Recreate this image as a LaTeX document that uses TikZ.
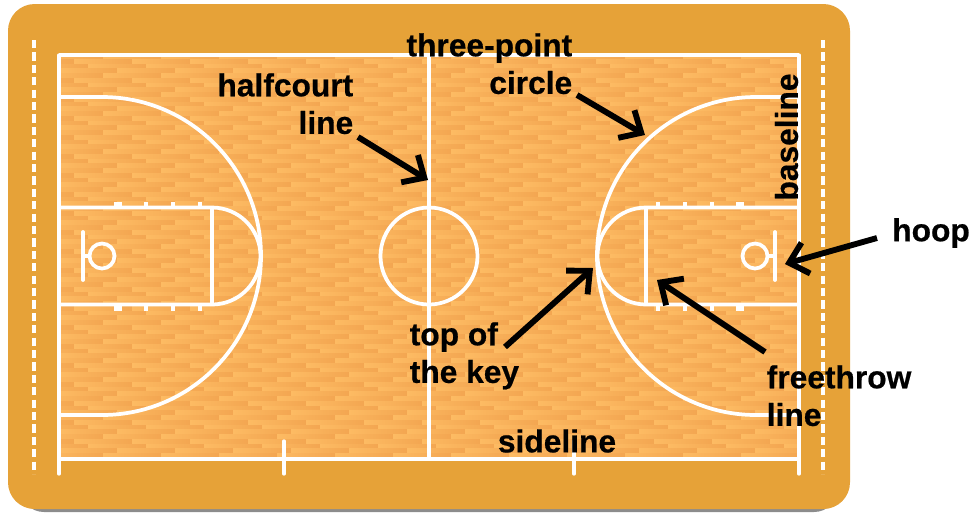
\documentclass[tikz,border=0pt]{standalone}
\usepackage{fontspec}
\setmainfont[BoldFeatures={FakeBold=0.6}]{Liberation Sans}
\usetikzlibrary{arrows.meta}
\definecolor{floorband}{HTML}{E6A238}
\definecolor{woodlight}{HTML}{FDBB63}
\definecolor{wooddark}{HTML}{F3A651}
\definecolor{shadowgray}{HTML}{8C8C8C}
\tikzset{
  courtline/.style={draw=white,line width=2.8pt},
  thinline/.style={draw=white,line width=2.5pt},
  dashline/.style={draw=white,line width=2.8pt,dash pattern=on 6.2pt off 3.1pt},
  mark line/.style={draw=white,line width=2.4pt},
  fat mark/.style={draw=white,line width=5.6pt},
  label text/.style={font=\fontsize{23.8}{28.2}\selectfont\bfseries,text=black,inner sep=0pt},
  callout/.style={draw=black,line width=4.4pt,-{Straight Barb[length=13pt,width=24pt,line width=4.4pt]}},
}
\begin{document}
\begin{tikzpicture}[x=0.75pt,y=-0.75pt]
\useasboundingbox (0,0) rectangle (972,512);
\fill[white] (0,0) rectangle (972,512);
% base panel with shadow
\fill[shadowgray,rounded corners=18pt] (20,40) rectangle (838,512);
\fill[floorband,rounded corners=20pt] (8,4) rectangle (850,509);
% wood
\begin{scope}
\clip (59,55) rectangle (799,459);
\fill[woodlight] (59,55) rectangle (799,459);
\foreach \r in {0,...,85}{
  \pgfmathtruncatemacro\m{mod(\r,4)}
  \ifcase\m\relax \def\s{103}\or \def\s{74}\or \def\s{88}\or \def\s{117}\fi
  \pgfmathsetmacro\yy{54.5+4.75*\r}
  \pgfmathsetmacro\yb{\yy+4.85}
  \foreach \k in {-2,...,13}{
    \pgfmathsetmacro\xa{\s+58*\k}
    \pgfmathsetmacro\xb{\xa+58.05}
    \shade[left color=woodlight,right color=wooddark] (\xa,\yy) rectangle (\xb,\yb);
  }
}
\end{scope}
% outer dashed lines
\draw[dashline] (34,40) -- (34,474);
\draw[dashline] (823,40) -- (823,474);
% court boundary
\draw[courtline] (59,55) -- (799,55);
\draw[thinline] (59,459) -- (799,459);
\draw[thinline,line cap=round] (59,55) -- (59,474);
\draw[thinline,line cap=round] (799,55) -- (799,474);
\draw[courtline] (429,55) -- (429,459);
\draw[thinline,line cap=round] (284,441) -- (284,474);
\draw[thinline,line cap=round] (574,441) -- (574,474);
% center circle
\draw[courtline] (429,256) circle[radius=48.5];
% left half
\draw[courtline] (59,97) -- (102,97) arc[start angle=-90,end angle=90,radius=159] -- (59,415);
\draw[courtline] (59,207.5) -- (212,207.5) arc[start angle=-90,end angle=90,radius=48.5] -- (59,304.5);
\draw[courtline] (212,207.5) -- (212,304.5);
\draw[courtline] (102,256) circle[radius=12.5];
\draw[courtline,line cap=round] (83,232) -- (83,280);
\draw[courtline] (83,256) -- (90,256);
\draw[fat mark] (118,202) -- (118,207);
\draw[fat mark] (118,305) -- (118,311);
\foreach \x in {146,173,200}{
  \draw[mark line] (\x,202) -- (\x,207);
  \draw[mark line] (\x,305) -- (\x,311);
}
% right half
\draw[courtline] (799,97) -- (756,97) arc[start angle=-90,end angle=-270,radius=159] -- (799,415);
\draw[courtline] (799,207.5) -- (646,207.5) arc[start angle=-90,end angle=-270,radius=48.5] -- (799,304.5);
\draw[courtline] (646,207.5) -- (646,304.5);
\draw[courtline] (755,256) circle[radius=12.5];
\draw[courtline,line cap=round] (775,232) -- (775,280);
\draw[courtline] (768,256) -- (775,256);
\draw[fat mark] (740,202) -- (740,207);
\draw[fat mark] (740,305) -- (740,311);
\foreach \x in {658,685,712}{
  \draw[mark line] (\x,202) -- (\x,207);
  \draw[mark line] (\x,305) -- (\x,311);
}
% labels
\node[label text,align=right,anchor=north east] (threepoint) at (572.5,33) {three-point\\circle};
\node[label text,align=right,anchor=north east] (halfcourt) at (353.5,73) {halfcourt\\line};
\node[label text,rotate=90] (baseline) at (786.5,137) {baseline};
\node[label text,anchor=west] (hoop) at (892,233) {hoop};
\node[label text,align=left,anchor=north west] (topkey) at (409.5,322) {top of\\the key};
\node[label text,align=left,anchor=north west] (freethrow) at (766.5,365) {freethrow\\line};
\node[label text] (sideline) at (557,441) {sideline};
% callouts
\coordinate (halfA) at (358,137); \coordinate (halfB) at (428,180);
\coordinate (threeA) at (577,95); \coordinate (threeB) at (645,135);
\coordinate (topA) at (505,347); \coordinate (topB) at (593,268);
\coordinate (freeA) at (765,352); \coordinate (freeB) at (657,280);
\coordinate (hoopA) at (877,238); \coordinate (hoopB) at (785,264);
\draw[callout] (halfA) -- (halfB);
\draw[callout] (threeA) -- (threeB);
\draw[callout] (topA) -- (topB);
\draw[callout] (freeA) -- (freeB);
\draw[callout] (hoopA) -- (hoopB);
\end{tikzpicture}
\end{document}
